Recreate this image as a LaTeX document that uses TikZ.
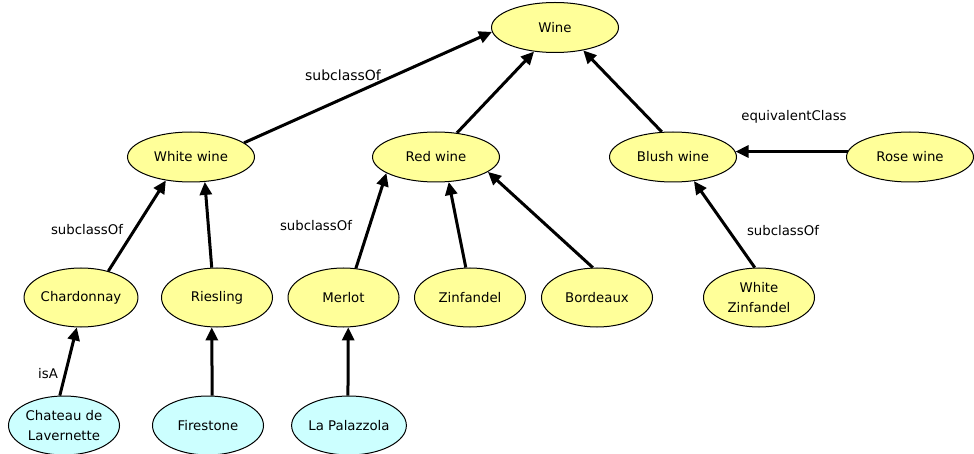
\documentclass[tikz,border=0pt]{standalone}
\usepackage{fontspec}
\setmainfont{DejaVu Sans}
\usetikzlibrary{shapes.geometric,arrows.meta}
\definecolor{clsfill}{RGB}{255,255,153}
\definecolor{indfill}{RGB}{204,255,255}

\begin{document}
\begin{tikzpicture}[x=1pt,y=-1pt,
  every node/.style={font=\fontsize{13.3}{20}\selectfont},
  cls/.style={ellipse, draw=black, line width=1pt, fill=clsfill, inner sep=0pt,
              minimum width=127pt, minimum height=50pt, align=center},
  leaf/.style={cls, minimum width=111pt, minimum height=59pt},
  ind/.style={leaf, fill=indfill},
  rel/.style={line width=3pt, -{Triangle[length=13pt,width=12pt]}},
  lbl/.style={inner sep=0pt}
]
\useasboundingbox (0,0) rectangle (974,454);

% classes
\node[cls] (wine)  at (555,27.5) {Wine};
\node[cls] (white) at (191,157) {White wine};
\node[cls] (red)   at (436,157) {Red wine};
\node[cls] (blush) at (673,157) {Blush wine};
\node[cls] (rose)  at (910,157) {Rose wine};

\node[leaf] (chard)  at (81,297.5)  {Chardonnay};
\node[leaf] (ries)   at (217,297.5) {Riesling};
\node[leaf] (merlot) at (343.5,297.5) {Merlot};
\node[leaf] (zin)    at (470,297.5) {Zinfandel};
\node[leaf] (bord)   at (597,297.5) {Bordeaux};
\node[leaf] (wzin)   at (759,297.5) {White\\Zinfandel};

% individuals
\node[ind] (chateau) at (64,425.5)  {Chateau de\\Lavernette};
\node[ind] (fire)    at (208,425.5) {Firestone};
\node[ind] (pal)     at (349,425.5) {La Palazzola};

% relations
\draw[rel] (white.15)  -- (wine.184);
\draw[rel] (red.49)    -- (wine.229);
\draw[rel] (blush.114) -- (wine.321);
\draw[rel] (rose.175)  -- (blush.5);

\draw[rel] (chard.44)  -- (white.223);
\draw[rel] (ries.100)  -- (white.299);
\draw[rel] (merlot.67) -- (red.198);
\draw[rel] (zin.98)    -- (red.297);
\draw[rel] (bord.98)   -- (red.344);
\draw[rel] (wzin.98)   -- (blush.311);

\draw[rel] (chateau.98) -- (chard.262);
\draw[rel] (fire.82)    -- (ries.260);
\draw[rel] (pal.92)     -- (merlot.279);

% relation labels
\node[lbl, font=\fontsize{14}{17}\selectfont] (l1) at (343,75) {subclassOf};
\node[lbl] (l2) at (794,117) {equivalentClass};
\node[lbl] (l3) at (87,230)  {subclassOf};
\node[lbl] (l4) at (316,226) {subclassOf};
\node[lbl] (l5) at (783,231) {subclassOf};
\node[lbl] (l6) at (48,374)  {isA};
\end{tikzpicture}
\end{document}
